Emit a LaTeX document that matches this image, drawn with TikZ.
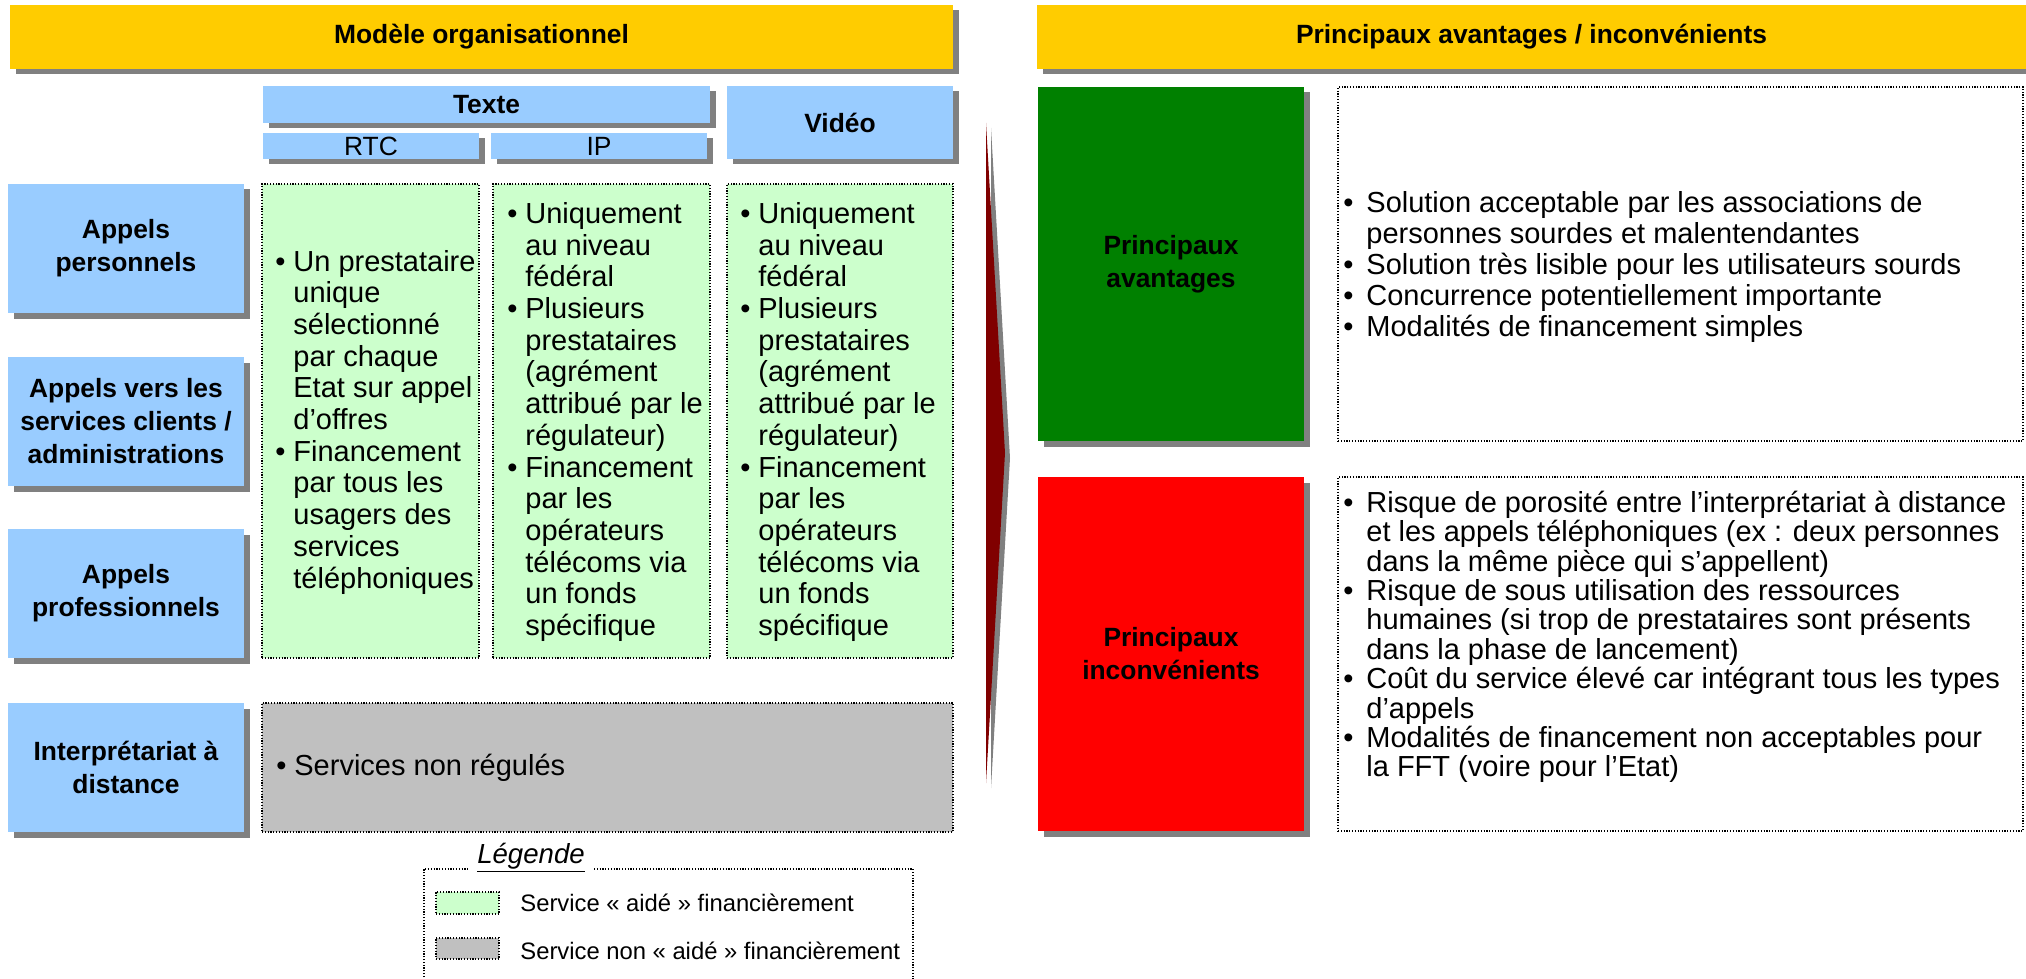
\documentclass[tikz,border=0pt]{standalone}
\usepackage{fontspec}
\setmainfont{Liberation Sans}
\usetikzlibrary{shadows}
\definecolor{hdryellow}{HTML}{FFCC00}
\definecolor{lblue}{HTML}{99CCFF}
\definecolor{lgreen}{HTML}{CCFFCC}
\definecolor{lgray}{HTML}{C0C0C0}
\definecolor{shgray}{HTML}{808080}
\definecolor{dgreen}{HTML}{008000}
\definecolor{bred}{HTML}{FF0000}
\definecolor{dred}{HTML}{800000}
\newcommand\mkbox[7]{\node[#6,anchor=north west,inner sep=0pt,outer sep=0pt,minimum width={(#4-#2)*0.5pt},minimum height={(#5-#3)*0.5pt}] (#1) at (#2,#3) {#7};}
\newcommand\bul{\makebox[9pt][l]{\textbullet}}
\newcommand\ind{\hspace*{9pt}}
\newcommand\bulr{\makebox[11.5pt][l]{\textbullet}}
\newcommand\indr{\hspace*{11.5pt}}
\tikzset{
 shad/.style={drop shadow={shadow xshift=2.75pt,shadow yshift=-2.75pt,fill=shgray,opacity=1}},
 hdr/.style={fill=hdryellow,shad,font=\fontsize{13.2}{16.5}\selectfont\bfseries},
 bluebox/.style={fill=lblue,shad,font=\fontsize{13.2}{16.5}\selectfont\bfseries,align=center},
 subbox/.style={fill=lblue,shad,font=\fontsize{13.2}{16.5}\selectfont},
 colorbox/.style={shad,font=\fontsize{13.2}{16.5}\selectfont\bfseries,align=center},
 dotbox/.style={draw=black,line width=0.65pt,dash pattern=on 0.6pt off 0.8pt},
 greenbox/.style={dotbox,fill=lgreen},
 graybox/.style={dotbox,fill=lgray},
 bodytxt/.style={anchor=west,inner sep=0pt,align=left,font=\fontsize{14.5}{15.85}\selectfont},
 legtxt/.style={anchor=west,inner sep=0pt,font=\fontsize{11.9}{14}\selectfont},
}
\begin{document}
\begin{tikzpicture}[x=0.5pt,y=-0.5pt]
\useasboundingbox (0,0) rectangle (2026,979);
\clip (0,0) rectangle (2026,979);
\fill[white] (0,0) rectangle (2026,979);
% headers
\mkbox{hl}{10}{5}{953}{69}{hdr}{Modèle organisationnel}
\mkbox{hr}{1037}{5}{2040}{69}{hdr}{}
\node[font=\fontsize{13.2}{16.5}\selectfont\bfseries] (hrt) at (1531.5,37) {Principaux avantages / inconvénients};
% column headers
\mkbox{texte}{263}{86}{710}{123}{bluebox}{Texte}
\mkbox{rtc}{263}{133}{479}{159}{subbox}{RTC}
\mkbox{ip}{491}{133}{707}{159}{subbox}{IP}
\mkbox{video}{727}{86}{953}{159}{bluebox}{Vidéo}
% row headers
\mkbox{r1}{8}{184}{244}{313}{bluebox}{Appels\\personnels}
\mkbox{r2}{8}{357}{244}{486}{bluebox}{Appels vers les\\services clients /\\administrations}
\mkbox{r3}{8}{529}{244}{658}{bluebox}{Appels\\professionnels}
\mkbox{r4}{8}{703}{244}{832}{bluebox}{Interprétariat à\\distance}
% green cells
\mkbox{grtc}{262}{184}{479}{658}{greenbox}{}
\mkbox{gip}{493}{184}{710}{658}{greenbox}{}
\mkbox{gvid}{727}{184}{953}{658}{greenbox}{}
\mkbox{gray}{262}{703}{953}{832}{graybox}{}
\node[bodytxt] (trtc) at (275,422) {\bul Un prestataire\\\ind unique\\\ind sélectionné\\\ind par chaque\\\ind Etat sur appel\\\ind d’offres\\\bul Financement\\\ind par tous les\\\ind usagers des\\\ind services\\\ind téléphoniques};
\node[bodytxt] (tip) at (507,422) {\bul Uniquement\\\ind au niveau\\\ind fédéral\\\bul Plusieurs\\\ind prestataires\\\ind (agrément\\\ind attribué par le\\\ind régulateur)\\\bul Financement\\\ind par les\\\ind opérateurs\\\ind télécoms via\\\ind un fonds\\\ind spécifique};
\node[bodytxt] (tvid) at (740,422) {\bul Uniquement\\\ind au niveau\\\ind fédéral\\\bul Plusieurs\\\ind prestataires\\\ind (agrément\\\ind attribué par le\\\ind régulateur)\\\bul Financement\\\ind par les\\\ind opérateurs\\\ind télécoms via\\\ind un fonds\\\ind spécifique};
\node[bodytxt] (tgray) at (276,767.5) {\bul Services non régulés};
% arrow
\fill[shgray] (991,128) -- (1010,458) -- (991,788) -- cycle;
\fill[dred] (986,123) -- (1005,453) -- (986,783) -- cycle;
% right side
\mkbox{av}{1038}{87}{1304}{441}{colorbox,fill=dgreen}{Principaux\\avantages}
\mkbox{inc}{1038}{477}{1304}{831}{colorbox,fill=bred}{Principaux\\inconvénients}
\mkbox{avt}{1338}{87}{2023}{441}{dotbox}{}
\mkbox{inct}{1338}{477}{2023}{831}{dotbox}{}
\node[bodytxt,font=\fontsize{14.5}{15.6}\selectfont] (tav) at (1343,267) {\bulr Solution acceptable par les associations de\\\indr personnes sourdes et malentendantes\\\bulr Solution très lisible pour les utilisateurs sourds\\\bulr Concurrence potentiellement importante\\\bulr Modalités de financement simples};
\node[bodytxt,font=\fontsize{14.5}{14.7}\selectfont] (tinc) at (1343,637) {\bulr Risque de porosité entre l’interprétariat à distance\\\indr et les appels téléphoniques (ex : deux personnes\\\indr dans la même pièce qui s’appellent)\\\bulr Risque de sous utilisation des ressources\\\indr humaines (si trop de prestataires sont présents\\\indr dans la phase de lancement)\\\bulr Coût du service élevé car intégrant tous les types\\\indr d’appels\\\bulr Modalités de financement non acceptables pour\\\indr la FFT (voire pour l’Etat)};
% legend
\node[font=\fontsize{13.8}{16}\selectfont\itshape,inner sep=0pt] (legt) at (531,858) {\underline{Légende}};
\draw[dotbox] (594,869) -- (913,869) -- (913,995) -- (424,995) -- (424,869) -- (468,869);
\mkbox{sw1}{436}{892}{499}{914}{greenbox}{}
\mkbox{sw2}{436}{938}{499}{959}{graybox}{}
\node[legtxt] (l1) at (520,903) {Service « aidé » financièrement};
\node[legtxt] (l2) at (520,951) {Service non « aidé » financièrement};
\end{tikzpicture}
\end{document}
